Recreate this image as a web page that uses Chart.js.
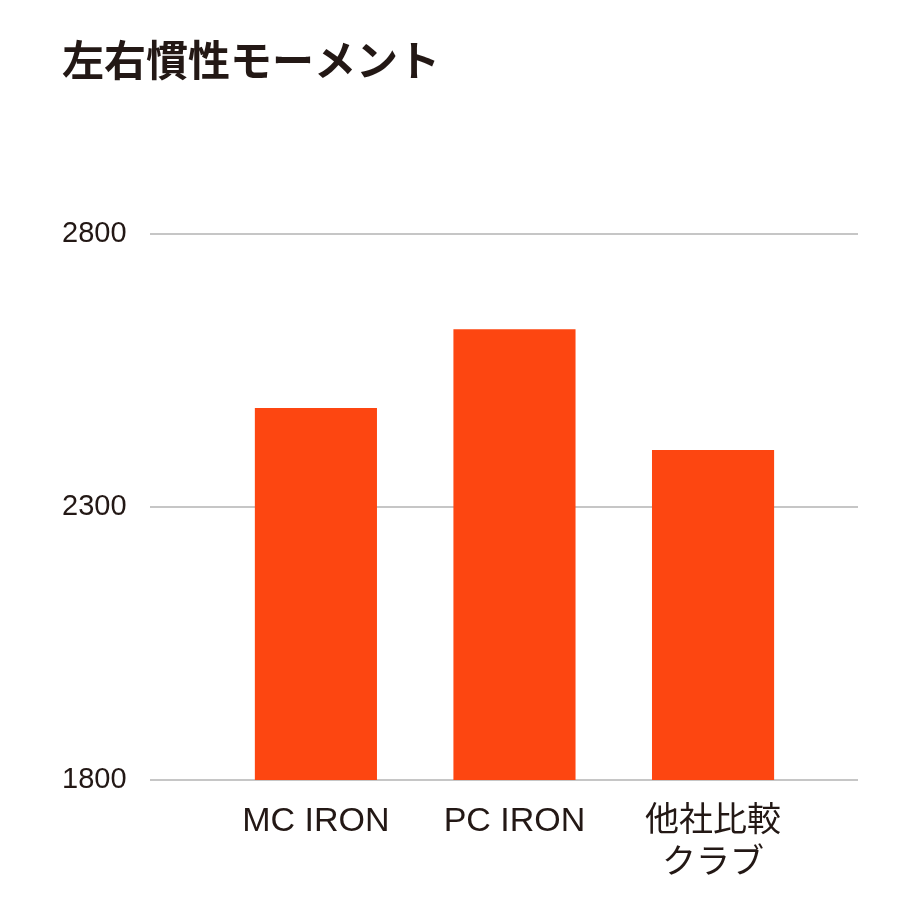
<!DOCTYPE html>
<html lang="ja">
<head>
<meta charset="utf-8">
<title>左右慣性モーメント</title>
<script src="https://cdn.jsdelivr.net/npm/chart.js@4.4.1/dist/chart.umd.min.js"></script>
<style>
    html, body {
        margin: 0;
        padding: 0;
        background: #ffffff;
    }
    #wrap {
        width: 920px;
        height: 920px;
    }
</style>
</head>
<body>
<div id="wrap"><canvas id="momentChart"></canvas></div>
<script>
// data
const categories = ['MC IRON', 'PC IRON', '他社比較クラブ'];
const categoryLines = [['MC IRON'], ['PC IRON'], ['他社比較', 'クラブ']];
const momentValues = [2482, 2626, 2405];
const yTicks = [1800, 2300, 2800];

const ink = '#231815';
const fontFamily = '"Liberation Sans", "Noto Sans CJK JP", sans-serif';

const ctx = document.getElementById('momentChart');

new Chart(ctx, {
    type: 'bar',
    data: {
        labels: categories,
        datasets: [{
            label: '左右慣性モーメント',
            data: categories.map((c, i) => ({x: i, y: momentValues[i]})),
            backgroundColor: '#fd4611',
            borderWidth: 0,
            categoryPercentage: 1,
            barPercentage: 0.615
        }]
    },
    options: {
        responsive: true,
        maintainAspectRatio: false,
        animation: false,
        devicePixelRatio: 1,
        layout: {
            padding: {top: 19, left: 62, right: 62, bottom: 15}
        },
        scales: {
            x: {
                type: 'linear',
                offset: false, // bars sit off-centre inside the gridlines
                min: -0.838,
                max: 2.73,
                afterBuildTicks: (axis) => {
                    axis.ticks = categories.map((c, i) => ({value: i}));
                },
                grid: {display: false, drawTicks: false},
                border: {display: false},
                ticks: {
                    autoSkip: false,
                    maxRotation: 0,
                    padding: 21,
                    color: ink,
                    font: {family: fontFamily, size: 34, lineHeight: 1.22},
                    callback: (value) => categoryLines[value]
                }
            },
            y: {
                min: 1800,
                max: 2800,
                afterBuildTicks: (axis) => {
                    axis.ticks = yTicks.map(v => ({value: v}));
                },
                grid: {color: '#c6c6c6', lineWidth: 2, drawTicks: false},
                border: {display: false},
                ticks: {
                    crossAlign: 'far', // labels flush with the title's left edge
                    padding: 11.5,
                    color: ink,
                    font: {family: fontFamily, size: 29},
                    callback: (value) => String(value)
                }
            }
        },
        plugins: {
            legend: {display: false},
            tooltip: {enabled: false},
            title: {
                display: true,
                text: '左右慣性モーメント',
                align: 'start',
                color: ink,
                font: {family: fontFamily, size: 42, weight: 'bold', lineHeight: 1.2},
                padding: {top: 20, bottom: 145}
            }
        }
    }
});
</script>
</body>
</html>
